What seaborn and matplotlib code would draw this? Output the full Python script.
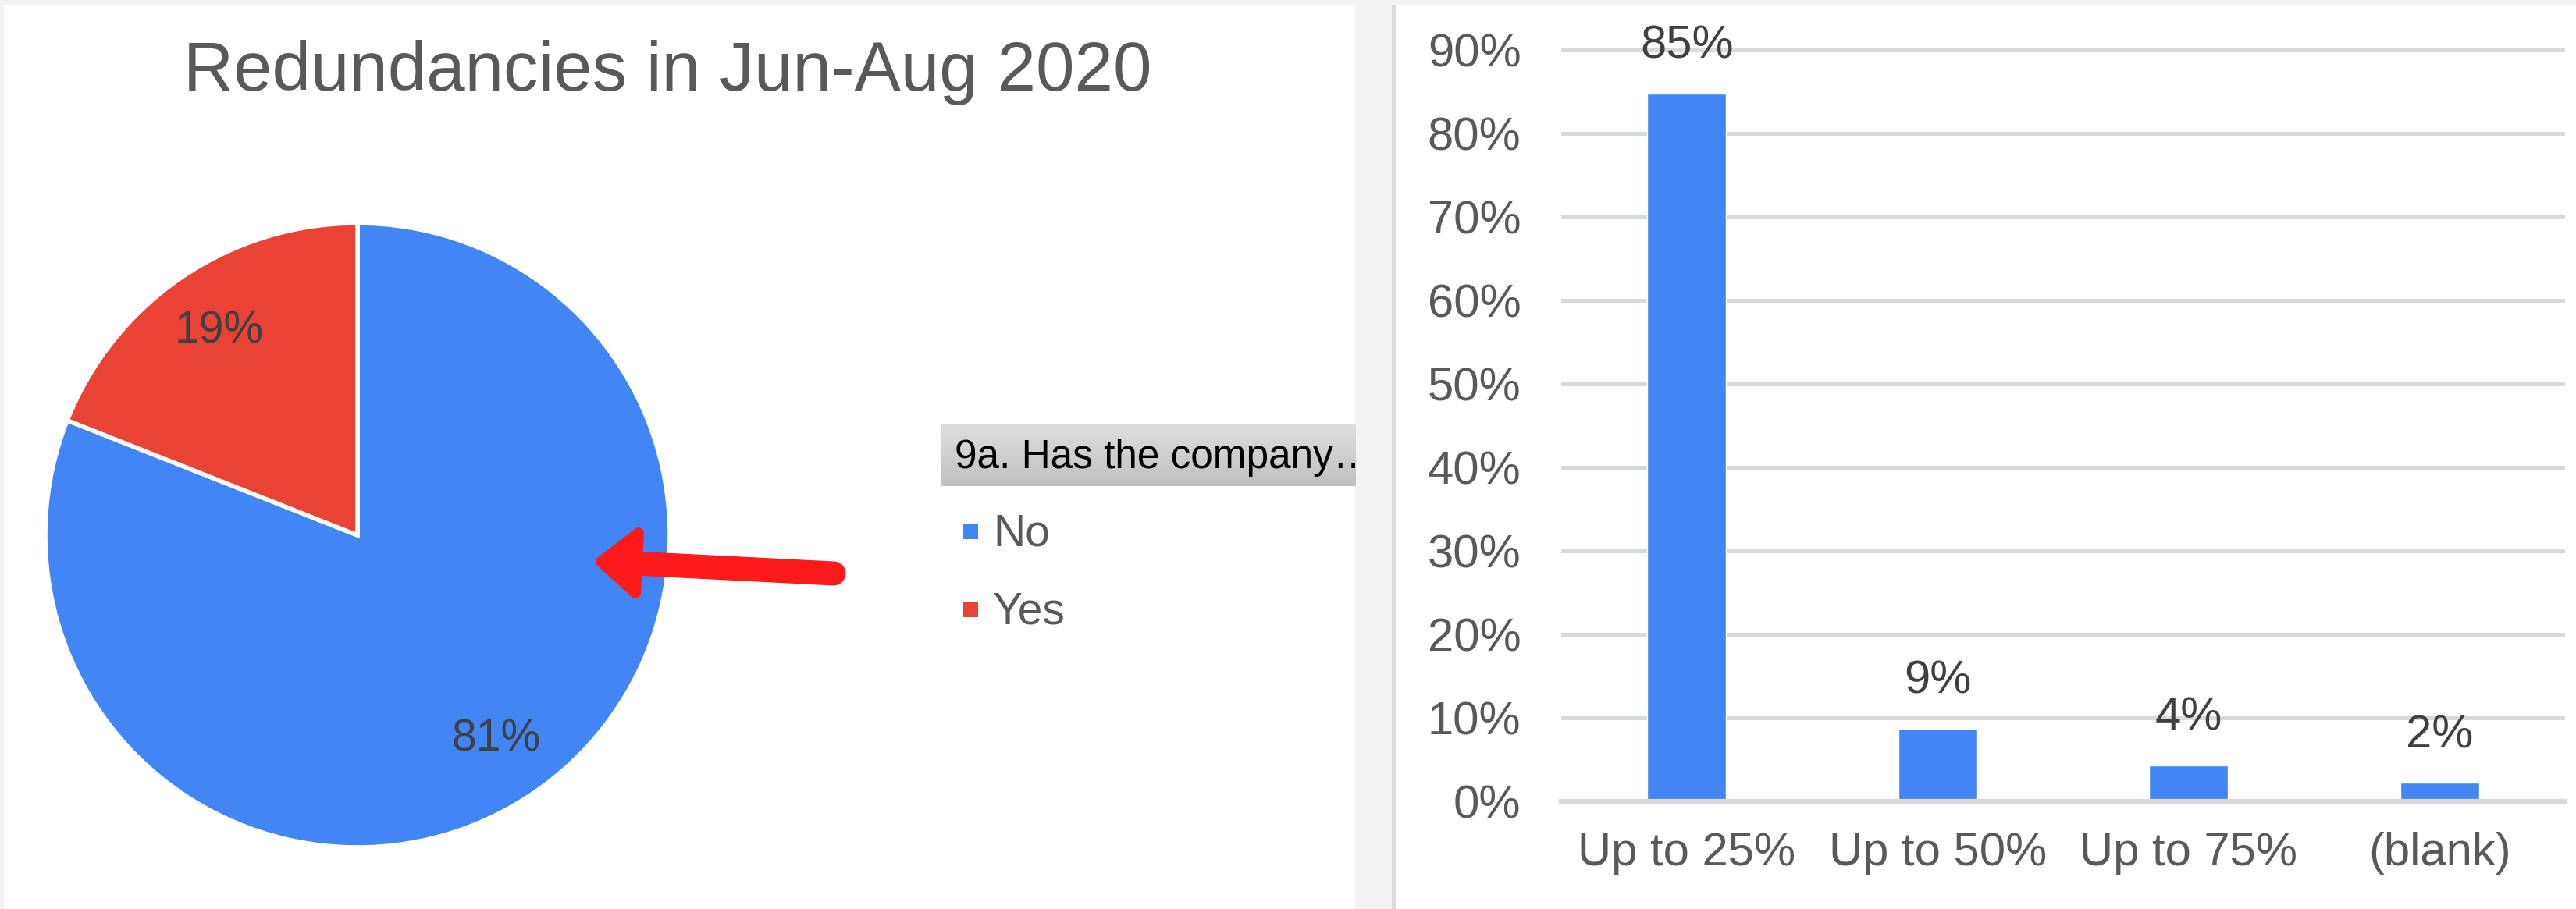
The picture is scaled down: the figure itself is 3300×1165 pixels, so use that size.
import numpy as np
import matplotlib
matplotlib.use('Agg')
import matplotlib.pyplot as plt
import seaborn as sns
from matplotlib.patches import Rectangle, Polygon
from matplotlib.colors import LinearSegmentedColormap
from matplotlib.ticker import PercentFormatter

# data
chart_title = 'Redundancies in Jun-Aug 2020'
legend_title = '9a. Has the company\u2026'
pie_labels = ['No', 'Yes']
pie_shares = [0.81, 0.19]
pie_colors = ['#4285f4', '#ea4335']

bar_cats = ['Up to 25%', 'Up to 50%', 'Up to 75%', '(blank)']
bar_vals = [0.848, 0.087, 0.043, 0.022]
bar_ticks = [0.0, 0.1, 0.2, 0.3, 0.4, 0.5, 0.6, 0.7, 0.8, 0.9]

# setup
W, H = 3300, 1165
sns.set_theme(style='white')
plt.rcParams['font.family'] = ['Liberation Sans', 'DejaVu Sans']
grey_text = '#595959'
dark_text = '#404040'
grid_col = '#d9d9d9'
arrow_red = '#fc1a1a'


def box(x0, y0, x1, y1):
    # pixel box (from top left) -> figure fraction rect
    return [x0 / W, 1 - y1 / H, (x1 - x0) / W, (y1 - y0) / H]


def frect(x0, y0, x1, y1, color):
    r = box(x0, y0, x1, y1)
    fig.patches.append(Rectangle((r[0], r[1]), r[2], r[3], transform=fig.transFigure,
                                 facecolor=color, edgecolor='none', zorder=-5))


fig = plt.figure(figsize=(W / 100, H / 100), dpi=100, facecolor='#f3f3f3')

# panel backgrounds
frect(5, 7, 1736, H, 'white')
frect(1783, 7, 1788, H, '#dadada')
frect(1788, 7, W, H, 'white')

# pie
ax_pie = fig.add_axes(box(58, 286, 858, 1086))
ax_pie.pie(pie_shares, colors=pie_colors, startangle=90, counterclock=False,
           autopct=lambda p: f'{p:.0f}%', pctdistance=0.79,
           wedgeprops=dict(edgecolor='white', linewidth=4),
           textprops=dict(fontsize=41, color=dark_text))
ax_pie.set_xlim(-1, 1)
ax_pie.set_ylim(-1, 1)
ax_pie.axis('off')

# legend header with gradient
ax_head = fig.add_axes(box(1205, 543, 1736, 623))
grad_cmap = LinearSegmentedColormap.from_list('head', ['#dedede', '#c0c0c0'])
ax_head.imshow(np.linspace(0, 1, 64).reshape(-1, 1), cmap=grad_cmap,
               aspect='auto', extent=[0, 1, 0, 1])
ax_head.text(0.034, 0.46, legend_title, fontsize=37, color='black',
             va='center', ha='left', clip_on=True)
ax_head.set_xlim(0, 1)
ax_head.set_ylim(0, 1)
ax_head.axis('off')

# bar chart
ax_bar = fig.add_axes(box(2000, 43, 3286, 1027))
ax_bar.set_facecolor('white')
sns.barplot(x=bar_cats, y=bar_vals, color=pie_colors[0], saturation=1,
            width=0.315, ax=ax_bar)
ax_bar.set_ylim(0, 0.92)
ax_bar.set_yticks(bar_ticks)
ax_bar.yaxis.set_major_formatter(PercentFormatter(1.0, decimals=0))
ax_bar.yaxis.grid(True, color=grid_col, linewidth=3.6)
ax_bar.set_axisbelow(True)
for side in ['top', 'left', 'right']:
    ax_bar.spines[side].set_visible(False)
ax_bar.spines['bottom'].set_color(grid_col)
ax_bar.spines['bottom'].set_linewidth(4.5)
ax_bar.tick_params(axis='y', length=0, pad=37, labelsize=43, labelcolor=grey_text)
ax_bar.tick_params(axis='x', length=0, pad=28, labelsize=43, labelcolor=grey_text)
ax_bar.set_xlabel('')
ax_bar.set_ylabel('')
ax_bar.bar_label(ax_bar.containers[0], labels=[f'{round(v * 100)}%' for v in bar_vals],
                 padding=24, fontsize=43, color=dark_text)

# overlay in pixel coords: title, legend entries, arrow
ov = fig.add_axes([0, 0, 1, 1], zorder=10)
ov.set_xlim(0, W)
ov.set_ylim(H, 0)
ov.patch.set_alpha(0)
ov.axis('off')

ov.text(855, 116, chart_title, fontsize=64, color=grey_text, ha='center', va='baseline')

for i, (lab, col) in enumerate(zip(pie_labels, pie_colors)):
    y0 = 672 + i * 100
    ov.add_patch(Rectangle((1234, y0), 19, 19, facecolor=col, edgecolor='none'))
    ov.text(1272, y0 + 27, lab, fontsize=41, color=grey_text, ha='left', va='baseline')

ov.plot([1068, 812], [735, 722], color=arrow_red, linewidth=22.3, solid_capstyle='round')
ov.add_patch(Polygon([(770, 720), (818, 683), (814, 760)], closed=True,
                     facecolor=arrow_red, edgecolor=arrow_red, linewidth=10,
                     joinstyle='round'))

fig.savefig('out.png', dpi=100, facecolor=fig.get_facecolor())
